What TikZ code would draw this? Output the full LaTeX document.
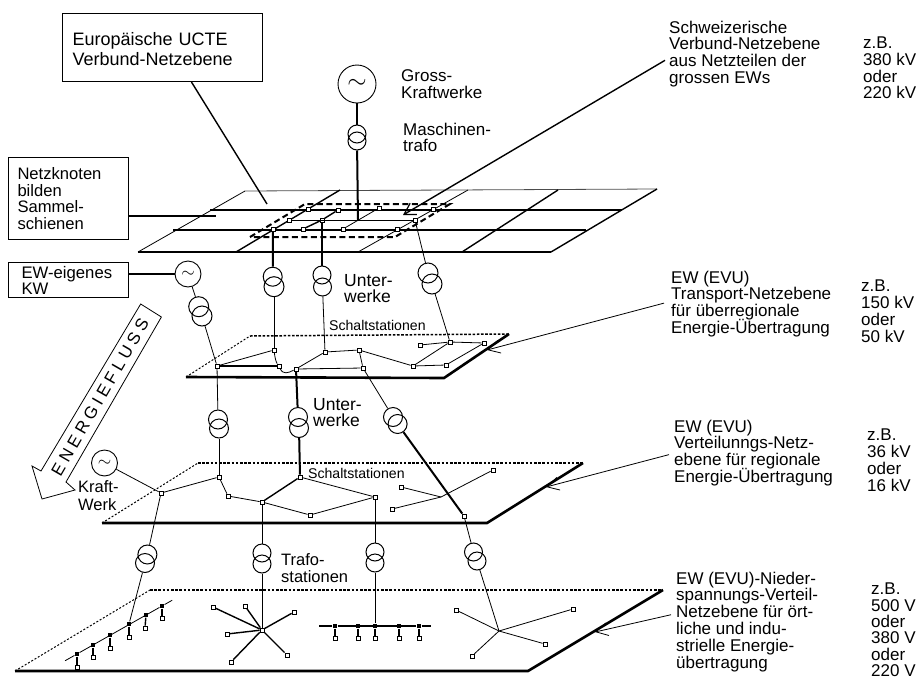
\documentclass[tikz,border=0pt]{standalone}
\usepackage{fontspec}
\setmainfont{Liberation Sans}
\usetikzlibrary{arrows.meta,positioning,calc}
\setlength{\lineskiplimit}{-30pt}

\begin{document}
\begin{tikzpicture}[
    x=1pt, y=-1pt,
    txt/.style={inner sep=0pt, anchor=north west, align=left, font=\fontsize{17}{16.8}\selectfont},
    small/.style={inner sep=0pt, anchor=north west, align=left, font=\fontsize{14.1}{16}\selectfont},
    box/.style={draw, line width=1pt, inner sep=0pt, anchor=north west, align=left},
    gen/.style={draw, circle, inner sep=0pt, line width=0.9pt, font=\fontsize{18}{18}\selectfont},
    trf/.style={draw, circle, minimum size=#1, inner sep=0pt, line width=1pt},
    trf/.default=19pt,
    sq/.style={draw, fill=white, rectangle, minimum size=4pt, inner sep=0pt, line width=0.8pt},
    dot/.style={fill=black, rectangle, minimum size=4.8pt, inner sep=0pt},
    thn/.style={line width=0.8pt},
    med/.style={line width=1.4pt},
    thk/.style={line width=2pt},
    hvy/.style={line width=2.6pt},
    dsh/.style={line width=2pt, dash pattern=on 6pt off 3.5pt},
    dts/.style={line width=1.5pt, dash pattern=on 2.6pt off 1.6pt},
    dtt/.style={line width=1pt, dash pattern=on 2pt off 1.8pt},
    lead/.style={thn, -{Straight Barb[length=12pt, width=13pt, line width=0.8pt]}},
    leadb/.style={med, -{Straight Barb[length=11pt, width=13pt, line width=1.2pt]}}
]
\useasboundingbox (0,0) rectangle (916,678);

\node[box, minimum width=200pt, minimum height=68pt, text width=180pt, inner xsep=10pt, font=\fontsize{18}{20}\selectfont] (ucte) at (62,13) {\rule{0pt}{16pt}Europäische UCTE\\Verbund-Netzebene};
\node[box, minimum width=120pt, minimum height=82pt, text width=102pt, inner xsep=9pt, font=\fontsize{16.6}{16.7}\selectfont] (netz) at (8,157) {Netzknoten\\bilden\\Sammel-\\schienen};
\node[box, minimum width=120pt, minimum height=35pt, text width=94pt, inner xsep=13pt, font=\fontsize{16.7}{16}\selectfont] (kwbox) at (8,262) {EW-eigenes\\KW};

\node[txt] (gross) at (401,69.6) {Gross-\\Kraftwerke};
\node[txt] (masch) at (403,122.6) {Maschinen-\\trafo};
\node[txt] (schw) at (669,20.6) {Schweizerische\\Verbund-Netzebene\\aus Netzteilen der\\grossen EWs};
\node[txt] (kv1) at (863,36.6) {z.B.\\380 kV\\oder\\220 kV};
\node[txt, font=\fontsize{17.5}{15.6}\selectfont] (uw1) at (344,274.2) {Unter-\\werke};
\node[small] (sch1) at (329,319.7) {Schaltstationen};
\node[txt] (transp) at (671,270.6) {EW (EVU)\\Transport-Netzebene\\für überregionale\\Energie-Übertragung};
\node[txt] (kv2) at (861,279.8) {z.B.\\150 kV\\oder\\50 kV};
\node[txt, font=\fontsize{17.5}{15.8}\selectfont] (uw2) at (313,398.2) {Unter-\\werke};
\node[small] (sch2) at (308,467.7) {Schaltstationen};
\node[txt, font=\fontsize{16.5}{18}\selectfont] (kraft) at (78,480) {Kraft-\\Werk};
\node[txt] (vert) at (674,419.6) {EW (EVU)\\Verteilunngs-Netz-\\ebene für regionale\\Energie-Übertragung};
\node[txt] (kv3) at (867,428.8) {z.B.\\36 kV\\oder\\16 kV};
\node[txt, font=\fontsize{16.5}{17}\selectfont] (trafo) at (281,553) {Trafo-\\stationen};
\node[txt] (nied) at (676,571.6) {EW (EVU)-Nieder-\\spannungs-Verteil-\\Netzebene für ört-\\liche und indu-\\strielle Energie-\\übertragung};
\node[txt, font=\fontsize{17}{16.4}\selectfont] (kv4) at (871,582.8) {z.B.\\500 V\\oder\\380 V\\oder\\220 V};

\node[rotate=60, inner sep=0pt, font=\fontsize{17}{17}\selectfont\addfontfeature{LetterSpace=25}] (flow) at (100,397) {ENERGIEFLUSS};
\draw[thn] (140.7,304) -- (161.4,317) -- (66,482) -- (75,490) -- (42,499) -- (32,466) -- (41,471) -- cycle;

\foreach \nm/\xx/\yy in {p1/138/252, p2/245/191, p3/657/189, p4/551/252,
    q1/186/377, q2/250/336, q3/509/334, q4/444/378,
    r1/102/523, r2/198/463, r3/583/463, r4/487/523,
    s1/15/671, s2/150/590, s3/663/590, s4/528/671}
    \coordinate (\nm) at (\xx,\yy);

\draw[thn] (p1) -- (p2);
\draw[thn, black!70] (p2) -- (p3);
\draw[med] (p3) -- (p4);
\draw[thk] (p1) -- (p4);
\draw[dts] (q2) -- (q3);
\draw[dtt] (q1) -- (q2);
\draw[hvy] (q1) -- (q4) -- (q3);
\draw[dts] (r2) -- (r3);
\draw[dtt] (r1) -- (r2);
\draw[hvy] (r1) -- (r4) -- (r3);
\draw[dts] (s2) -- (s3);
\draw[dtt] (s1) -- (s2);
\draw[hvy] (s1) -- (s4) -- (s3);

\foreach \nm/\xx/\yy in {b1/210/210, b2/622/210, b3/173/230, b4/586/230,
    d1/236/252, d2/340/190, d3/358/252, d4/468/190, d5/462/252, d6/558/190,
    n1/216/216, m1/358/220, h1/441/497, h2/499/631,
    f1/250/237, f2/305/204, f3/450/204, f4/395/237,
    u1/403/215, u2/267/204, u3/487/350, u4/546/487, u5/595/632}
    \coordinate (\nm) at (\xx,\yy);

\draw[thk] (b1) -- (b2);
\draw[thk] (b3) -- (b4);
\draw[med] (d1) -- (d2);
\draw[thn] (d3) -- (d4);
\draw[med] (d5) -- (d6);
\draw[dsh] (f1) -- (f2) -- (f3) -- (f4) -- cycle;

\foreach \nm/\xx/\yy in {a1/273/229, a2/289/220, a3/308/209, a4/303/229, a5/322/220, a6/338/210,
    a7/343/229, a8/379/208, a9/397/229, a10/415/220, a11/433/209,
    c1/217/366, c2/274/350, c3/279/366, c4/296/369, c5/325/352, c6/359/350, c7/363/368,
    c8/413/366, c9/446/365, c10/484/343, c11/450/342, c12/420/345,
    e1/161/493, e2/219/477, e3/228/496, e4/262/502, e5/310/515, e6/375/497, e7/300/477,
    e8/401/487, e9/392/509, e10/493/470, e11/464/516,
    l1/77/667, l2/93/657, l3/110/648, l4/129/637, l5/145/628, l6/162/618,
    v0/262/630, v1/213/607, v2/245/606, v3/294/612, v4/227/634, v5/231/662, v6/287/655,
    w1/335/638, w2/358/638, w3/375/638, w4/399/638, w5/419/638,
    y1/456/610, y2/573/609, y3/545/644, y4/472/656}
    \node[sq] (\nm) at (\xx,\yy) {};

\foreach \nm/\xx/\yy in {k1/77/654, k2/93/645, k3/110/635, k4/129/624, k5/146/615, k6/162/606,
    z1/335/626, z2/358/626, z3/375/626, z4/399/626, z5/419/626}
    \node[dot] (\nm) at (\xx,\yy) {};

\node[gen, minimum size=38pt, font=\fontsize{28}{28}\selectfont] (g0) at (357,84) {$\sim$};
\node[gen, minimum size=26pt] (g1) at (188,274) {$\sim$};
\node[gen, minimum size=26pt] (g2) at (104.5,463) {$\sim$};

\foreach \nm/\xx/\yy/\rr in {t0a/357/134/18pt, t0b/357/141/18pt,
    t1a/198.7/306.7/20pt, t1b/202/316/20pt, t2a/272.7/276.7/19pt, t2b/274/286.7/20pt,
    t3a/322/275/18pt, t3b/322.5/287/18pt, t4a/428/273/20pt, t4b/432/284/20pt,
    t5a/218/419.5/19pt, t5b/219/428.5/19pt, t6a/298/417/19pt, t6b/299/428/19pt,
    t7a/393/417/19pt, t7b/397.6/424/19pt,
    t8a/147.4/554.5/19pt, t8b/145/563/19pt, t9a/262/553/18pt, t9b/262/564/18pt,
    t10a/375/552/18pt, t10b/375/563/18pt, t11a/473.5/552/18pt, t11b/477/561/18pt}
    \node[trf=\rr] (\nm) at (\xx,\yy) {};

\draw[thk] (g0) -- (t0a);
\draw[thk] (t0b) -- (m1);
\draw[thn] (a2) -- (a10);
\draw[med] (a4) -- (a5) -- (a6);
\draw[thn] (a7) -- (a8);
\draw[thk] (n1 -| netz.east) -- (n1);
\draw[thk] (g1 -| kwbox.east) -- (g1);
\draw[thk] (a1) -- (t2a);
\draw[thk] (a5) -- (t3a);
\draw[thn] (a10) -- (t4a);
\draw[thn] (g1) -- (t1a);
\draw[thn] (t1b) -- (c1);
\draw[thn] (t2b) -- (c2);
\draw[thn] (t3b) -- (c5);
\draw[thn] (t4b) -- (c11);

\draw[thn] (c1) -- (c2);
\draw[thk] (c1) -- (c3);
\draw[thn] (c2) .. controls (275,358) and (276,362) .. (c3);
\draw[thn] (c3) .. controls (283,375) and (288,373) .. (c4);
\draw[thn] (c4) -- (c5) -- (c6) -- (c8) -- (c9) -- (c10);
\draw[thn] (c8) -- (c11);
\draw[thn] (c12) -- (c11) -- (c10);
\draw[thn] (c4) -- (c7) -- (c6);

\draw[thn] (c1) -- (t5a);
\draw[thn] (t5b) -- (e2);
\draw[thk] (c4) -- (t6a);
\draw[thk] (t6b) -- (e7);
\draw[thn] (c7) -- (t7a);
\draw[thk] (t7b) -- (e11);

\draw[thn] (g2) -- (e1);
\draw[thn] (e1) -- (e2) -- (e3) -- (e4);
\draw[med] (e4) -- (e7);
\draw[thn] (e7) -- (e6) -- (e5) -- (e4);
\draw[thn] (e8) -- (h1);
\draw[thn] (e9) -- (h1);
\draw[thn] (h1) -- (e10);

\draw[thn] (e1) -- (t8a);
\draw[thn] (t8b) -- (k4);
\draw[thn] (e4) -- (t9a);
\draw[thn] (t9b) -- (v0);
\draw[thn] (e6) -- (t10a);
\draw[thn] (t10b) -- (z3);
\draw[thn] (e11) -- (t11a);
\draw[thn] (t11b) -- (h2);

\draw[thn] (k1) -- (k6);
\draw[thn] ($(k1)!-0.14!(k6)$) -- (k1);
\draw[thn] (k6) -- ($(k6)!-0.12!(k1)$);
\foreach \i in {1,...,6}
    \draw[med] (k\i) -- (l\i);
\foreach \i in {1,...,6}
    \draw[med] (v0) -- (v\i);
\draw[med] (z1) -- (z5);
\draw[med] (z1) -- +(-16,0);
\draw[med] (z5) -- +(12,0);
\foreach \i in {1,...,5}
    \draw[med] (z\i) -- (w\i);
\foreach \i in {1,...,4}
    \draw[thn] (h2) -- (y\i);

\draw[med] (ucte.-50.5) -- (u2);
\draw[leadb] ([shift={(-4,6.4)}]schw.west) -- (u1);
\draw[lead] ([shift={(-7,-0.8)}]transp.west) -- (u3);
\draw[lead] ([shift={(-5,1.7)}]vert.west) -- (u4);
\draw[lead] ([shift={(-5,-7)}]nied.west) -- (u5);
\end{tikzpicture}
\end{document}
